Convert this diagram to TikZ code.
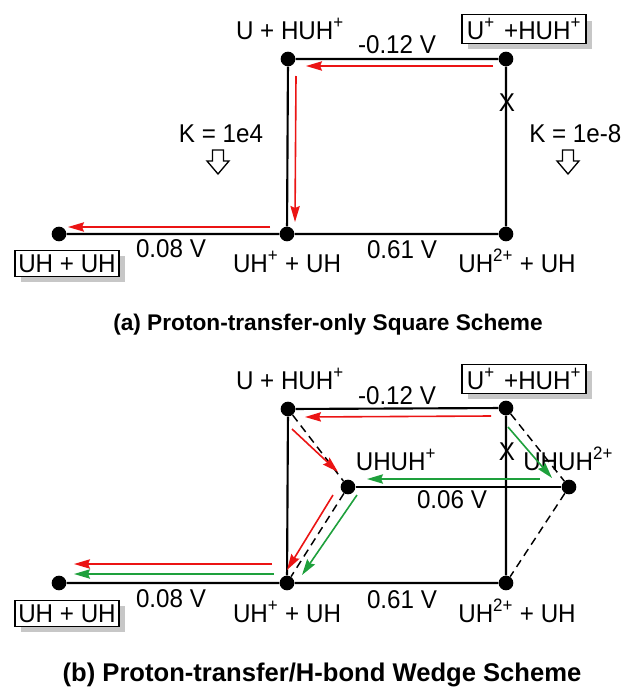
\documentclass[tikz,border=0pt]{standalone}
\usepackage{fontspec}
\setmainfont{Liberation Sans}
\newfontfamily\lblfont{Liberation Sans}[FakeStretch=0.94]
\usetikzlibrary{arrows.meta,shadows}
\definecolor{arrred}{RGB}{235,20,20}
\definecolor{arrgreen}{RGB}{30,160,60}

\begin{document}
\begin{tikzpicture}[x=0.75pt,y=-0.75pt,
  dot/.style={circle,fill=black,inner sep=0pt,minimum size=11pt},
  edge/.style={line width=1.6pt},
  hbond/.style={line width=1.1pt,dash pattern=on 6pt off 4pt},
  rarr/.style={arrred,line width=1.2pt,-{Stealth[length=12pt,width=7pt,inset=1.5pt]}},
  garr/.style={rarr,arrgreen},
  lbl/.style={font=\lblfont\fontsize{19.3}{22}\selectfont,inner sep=0pt,anchor=base},
  spec/.style={lbl,draw,line width=1pt,fill=white,inner xsep=2.5pt,inner ysep=3pt,
    drop shadow={shadow xshift=4.5pt,shadow yshift=-4.5pt,fill=black!22,opacity=1}},
  ttl/.style={font=\fontsize{17}{20}\selectfont\bfseries,inner sep=0pt,anchor=base},
  hollow/.style={line width=1pt,fill=white}]

\useasboundingbox (0,0) rectangle (624,689);

%==== (a) square scheme ====
\node[dot] (pa) at (59,234) {};
\node[dot] (pb) at (287,234) {};
\node[dot] (pc) at (506,234) {};
\node[dot] (pd) at (288,59) {};
\node[dot] (pe) at (506,59) {};
\draw[edge] (pa) -- (pb) -- (pc) -- (pe) -- (pd) -- (pb);

\node[lbl] (ld) at (290,39) {U + HUH\textsuperscript{+}};
\node[spec,inner xsep=3.5pt] (le) at (524,39) {U\textsuperscript{+}\hspace{7pt}+HUH\textsuperscript{+}};
\node[lbl] (vde) at (397,53) {-0.12 V};
\node[lbl] (kl) at (221,142) {K = 1e4};
\node[lbl,anchor=base west] (kr) at (529,142) {K = 1e-8};
\node[lbl,anchor=center] (xa) at (507,103) {X};
\node[spec] (la) at (67,272) {UH + UH};
\node[lbl] (vab) at (171,257) {0.08 V};
\node[lbl] (lb) at (287,272) {UH\textsuperscript{+} + UH};
\node[lbl] (vbc) at (402,258) {0.61 V};
\node[lbl] (lc) at (517,272) {UH\textsuperscript{2+} + UH};

% equilibrium arrows
\foreach \cx in {218,568}
  \draw[hollow] (\cx-5.5,150) -- ++(11,0) -- ++(0,11) -- ++(5.5,0) -- (\cx,174)
    -- ++(-11,-13) -- ++(5.5,0) -- cycle;

% pathway
\draw[rarr] ([shift={(-13,7)}]pe.center) -- ([shift={(18,7)}]pd.center);
\draw[rarr] ([shift={(8,17)}]pd.center) -- ([shift={(8,-12)}]pb.center);
\draw[rarr] ([shift={(-17,-7)}]pb.center) -- ([shift={(9,-7)}]pa.center);

\node[ttl] (ta) at (328,330) {(a) Proton-transfer-only Square Scheme};

%==== (b) wedge scheme ====
\begin{scope}[shift={(0,350)}]
  \node[dot] (qa) at (59,233) {};
  \node[dot] (qb) at (287,233) {};
  \node[dot] (qc) at (506,233) {};
  \node[dot] (qd) at (288,59) {};
  \node[dot] (qe) at (506,58) {};
  \node[dot] (qf) at (348,137) {};
  \node[dot] (qg) at (569,137) {};
  \draw[edge] (qa) -- (qb) -- (qc) -- (qe) -- (qd) -- (qb);
  \draw[edge] (qf) -- (qg);
  % H-bonded complexes
  \draw[hbond] (qd) -- (qf) -- (qb);
  \draw[hbond] (qe) -- (qg) -- (qc);

  \node[lbl] (md) at (290,39) {U + HUH\textsuperscript{+}};
  \node[spec,inner xsep=3.5pt] (me) at (524,39) {U\textsuperscript{+}\hspace{7pt}+HUH\textsuperscript{+}};
  \node[lbl] (wde) at (397,54) {-0.12 V};
  \node[lbl] (mf) at (396,120) {UHUH\textsuperscript{+}};
  \node[lbl,anchor=base west] (mg) at (523,120) {UHUH\textsuperscript{2+}};
  \node[lbl] (wfg) at (452,158) {0.06 V};
  \node[lbl,anchor=center] (xb) at (507,102) {X};
  \node[spec] (ma) at (67,272) {UH + UH};
  \node[lbl] (wab) at (171,257) {0.08 V};
  \node[lbl] (mb) at (287,272) {UH\textsuperscript{+} + UH};
  \node[lbl] (wbc) at (402,258) {0.61 V};
  \node[lbl] (mc) at (517,272) {UH\textsuperscript{2+} + UH};

  % red: square path, green: wedge path
  \draw[rarr] ([shift={(-15,8)}]qe.center) -- ([shift={(17,8)}]qd.center);
  \draw[rarr] ([shift={(4,20)}]qd.center) -- ([shift={(-10,-15)}]qf.center);
  \draw[rarr] ([shift={(-15,8)}]qf.center) -- ([shift={(0,-13)}]qb.center);
  \draw[rarr] ([shift={(-15,-19)}]qb.center) -- ([shift={(15,-19)}]qa.center);
  \draw[garr] ([shift={(2,19)}]qe.center) -- ([shift={(-17,-9)}]qg.center);
  \draw[garr] ([shift={(-29,-8)}]qg.center) -- ([shift={(19,-8)}]qf.center);
  \draw[garr] ([shift={(9,8)}]qf.center) -- ([shift={(15,-8)}]qb.center);
  \draw[garr] ([shift={(-13,-9)}]qb.center) -- ([shift={(15,-9)}]qa.center);

  \node[ttl,font=\fontsize{19.2}{22}\selectfont\bfseries] (tb) at (322,331)
    {(b) Proton-transfer/H-bond Wedge Scheme};
\end{scope}

\end{tikzpicture}
\end{document}
